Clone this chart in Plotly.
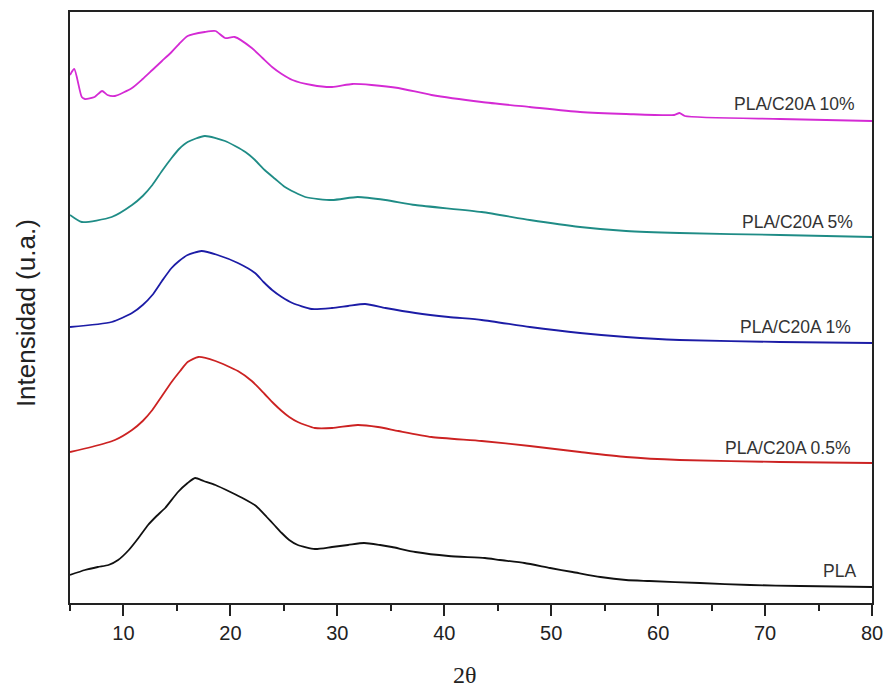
import plotly.graph_objects as go

# 2-theta positions and intensities (arbitrary units, stacked/offset as in the figure)
theta_pla = [5.0, 6.4, 7.6, 8.6, 9.5, 10.5, 11.4, 12.3, 13.1, 13.9, 15.1, 16.0, 16.7, 17.5, 18.6, 20.0, 21.3, 22.4, 23.4,
             24.1, 24.8, 25.5, 26.3, 27.9, 29.5, 31.0, 32.5, 34.0, 35.1, 37.3, 40.4, 43.8, 45.2, 47.5, 49.9, 52.0,
             54.6, 57.0, 59.2, 63.9, 68.6, 73.3, 80.0]
int_pla = [28, 33, 36, 38, 43, 53, 65, 78, 87, 95, 111, 120, 125, 122, 118, 111, 104, 97, 86,
           78, 70, 63, 58, 54, 56, 58, 60, 58, 56, 51, 47, 45, 43, 40, 35, 31,
           26, 23, 22, 20, 18, 17, 16]

theta_05 = [5.0, 7.0, 9.2, 10.8, 11.8, 12.7, 13.6, 14.5, 15.3, 16.0, 17.0, 18.6, 20.7, 22.0, 23.2, 24.0, 24.8, 25.5,
            26.3, 27.9, 29.5, 31.9, 33.8, 35.7, 38.8, 43.5, 48.0, 52.7, 57.0, 62.0, 71.4, 80.0]
int_05 = [151, 156, 163, 173, 182, 193, 207, 221, 232, 241, 246, 242, 232, 222, 209, 200, 192, 186,
          181, 175, 175, 178, 176, 172, 166, 162, 157, 151, 146, 143, 141, 140]

theta_1 = [5.0, 8.9, 10.8, 11.8, 12.7, 13.6, 14.5, 15.2, 16.0, 17.3, 18.8, 20.7, 22.3, 23.1, 23.9, 24.8, 25.8,
           27.6, 29.5, 31.0, 32.6, 34.5, 37.3, 40.4, 43.5, 48.0, 52.7, 57.0, 62.0, 71.4, 80.0]
int_1 = [276, 281, 290, 298, 308, 322, 335, 342, 348, 352, 348, 340, 330, 321, 313, 306, 300,
         294, 295, 297, 299, 295, 290, 286, 283, 276, 270, 266, 263, 261, 260]

theta_5 = [5.0, 6.1, 8.9, 10.8, 11.8, 12.7, 13.6, 14.5, 15.2, 16.0, 17.6, 19.5, 21.4, 22.3, 23.2, 24.2, 25.1,
           27.0, 29.5, 31.9, 34.5, 37.3, 43.5, 48.0, 52.7, 57.0, 62.0, 71.4, 80.0]
int_5 = [388, 381, 386, 398, 407, 418, 432, 445, 454, 461, 467, 462, 451, 443, 433, 424, 416,
         406, 403, 406, 403, 398, 391, 383, 376, 372, 370, 368, 366]

theta_10 = [5.0, 5.4, 6.1, 6.4, 7.3, 8.0, 8.5, 9.2, 10.8, 11.8, 12.7, 13.6, 14.5, 15.2, 16.0, 17.6, 18.6, 19.5,
            20.4, 22.0, 23.0, 23.9, 24.8, 25.8, 27.6, 29.5, 31.4, 33.2, 35.7, 38.8, 43.5, 48.0, 52.7, 57.0,
            61.5, 62.0, 62.5, 71.4, 80.0]
int_10 = [528, 534, 506, 504, 506, 512, 508, 507, 515, 524, 533, 542, 551, 559, 567, 571, 572, 565,
          566, 555, 545, 536, 529, 523, 518, 516, 519, 518, 515, 508, 501, 496, 491, 489,
          488, 490, 487, 484, 482]

labels = ["PLA", "PLA/C20A 0.5%", "PLA/C20A 1%", "PLA/C20A 5%", "PLA/C20A 10%"]
label_y = [32, 155, 276, 381, 499]
label_x = [78.7, 78.2, 78.2, 78.4, 78.6]
x_ticks = [10, 20, 30, 40, 50, 60, 70, 80]

series = [
    (theta_pla, int_pla, "#111111"),
    (theta_05, int_05, "#cc2222"),
    (theta_1, int_1, "#1c1ca6"),
    (theta_5, int_5, "#1f8c86"),
    (theta_10, int_10, "#d42ad4"),
]

fig = go.Figure()
for (tx, iy, col), name in zip(series, labels):
    fig.add_trace(go.Scatter(x=tx, y=iy, mode="lines", name=name,
                             line=dict(color=col, width=1.8, shape="spline", smoothing=0.6),
                             showlegend=False))

for name, lx, ly in zip(labels, label_x, label_y):
    fig.add_annotation(x=lx, y=ly, xref="x", yref="y", text=name, showarrow=False,
                       xanchor="right", yanchor="middle",
                       font=dict(family="Liberation Sans, Arial", size=17.5, color="#333333"))

fig.add_annotation(x=-0.054, y=0.49, xref="paper", yref="paper", text="Intensidad (u.a.)",
                   showarrow=False, textangle=-90, xanchor="center", yanchor="middle",
                   font=dict(family="Liberation Sans, Arial", size=26, color="#222222"))
fig.add_annotation(x=0.493, y=-0.122, xref="paper", yref="paper", text="2θ",
                   showarrow=False, xanchor="center", yanchor="middle",
                   font=dict(family="Liberation Serif, Times New Roman", size=24, color="#222222"))

fig.update_layout(
    width=887, height=687, autosize=False,
    margin=dict(l=70, r=15, t=12, b=84),
    paper_bgcolor="white", plot_bgcolor="white",
    xaxis=dict(range=[5, 80], tickvals=x_ticks, ticks="outside", ticklen=11, tickwidth=2,
               tickcolor="#222222", showline=True, linewidth=2, linecolor="#222222",
               mirror=True, showgrid=False, zeroline=False, automargin=False,
               tickfont=dict(family="Liberation Sans, Arial", size=20, color="#222222"),
               minor=dict(ticks="outside", ticklen=6, tickwidth=2, tickcolor="#222222", dtick=5,
                          tick0=5, showgrid=False)),
    yaxis=dict(range=[0, 591], showticklabels=False, ticks="", showline=True, linewidth=2,
               linecolor="#222222", mirror=True, showgrid=False, zeroline=False, automargin=False),
)

fig.write_html("out.html",
               config={"displayModeBar": False, "responsive": False},
               post_script="document.body.style.margin='0px';document.body.style.overflow='hidden';")
